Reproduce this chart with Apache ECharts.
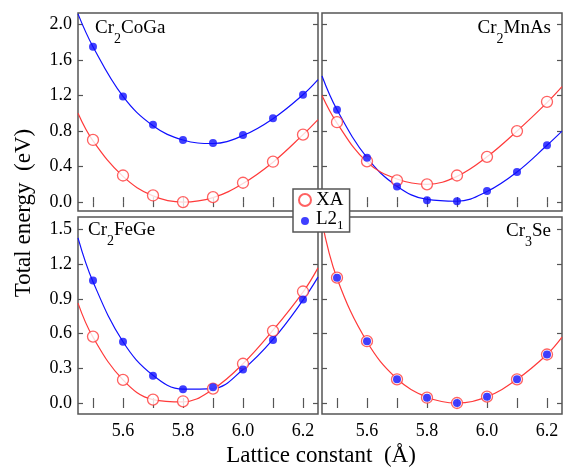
<!DOCTYPE html>
<html>
<head>
<meta charset="utf-8">
<script src="https://cdn.jsdelivr.net/npm/echarts@6/dist/echarts.min.js"></script>
<style>
  html, body { margin: 0; padding: 0; background: #fff; }
  #main { width: 564px; height: 468px; }
</style>
</head>
<body>
<div id="main"></div>
<script>
// lattice constants of the computed points, and the x positions the fitted curves are read at
const latt = [5.5, 5.6, 5.7, 5.8, 5.9, 6.0, 6.1, 6.2];
const fitLatt = [5.45, 5.5, 5.6, 5.7, 5.8, 5.9, 6.0, 6.1, 6.2, 6.25];

// Cr2CoGa
const coGaXA = [0.70, 0.30, 0.075, 0.0, 0.056, 0.218, 0.455, 0.76];
const coGaL21 = [1.75, 1.19, 0.87, 0.70, 0.665, 0.755, 0.945, 1.21];
const coGaXAFit = [1.0, 0.69, 0.29, 0.07, 0.0, 0.05, 0.21, 0.45, 0.76, 0.93];
const coGaL21Fit = [2.12, 1.75, 1.19, 0.86, 0.70, 0.66, 0.75, 0.94, 1.21, 1.38];

// Cr2MnAs
const mnAsXA = [0.90, 0.46, 0.245, 0.20, 0.30, 0.51, 0.80, 1.13];
const mnAsL21 = [1.04, 0.50, 0.175, 0.02, 0.01, 0.125, 0.34, 0.64];
const mnAsXAFit = [1.20, 0.89, 0.45, 0.26, 0.20, 0.29, 0.51, 0.80, 1.12, 1.30];
const mnAsL21Fit = [1.42, 1.04, 0.50, 0.18, 0.03, 0.01, 0.12, 0.34, 0.64, 0.80];

// Cr2FeGe
const feGeXA = [0.575, 0.20, 0.03, 0.015, 0.125, 0.34, 0.625, 0.965];
const feGeL21 = [1.06, 0.53, 0.235, 0.12, 0.137, 0.29, 0.545, 0.895];
const feGeXAFit = [0.865, 0.57, 0.20, 0.03, 0.01, 0.12, 0.34, 0.63, 0.96, 1.17];
const feGeL21Fit = [1.43, 1.05, 0.53, 0.24, 0.12, 0.125, 0.29, 0.55, 0.89, 1.09];

// Cr3Se (both phases coincide, the red fit hides the blue one)
const seXA = [1.085, 0.535, 0.205, 0.046, 0.0, 0.055, 0.205, 0.42];
const seL21 = [1.085, 0.535, 0.205, 0.046, 0.0, 0.055, 0.205, 0.42];
const seXAFit = [1.57, 1.08, 0.53, 0.21, 0.05, 0.0, 0.055, 0.205, 0.42, 0.57];

const xTicks = [5.5, 5.6, 5.7, 5.8, 5.9, 6.0, 6.1, 6.2];
const xLabels = [5.6, 5.8, 6.0, 6.2];
const yTicksTop = [0, 0.4, 0.8, 1.2, 1.6, 2.0];
const yTicksBottom = [0, 0.3, 0.6, 0.9, 1.2, 1.5];

const RED = '#ff3a3a';
const BLUE = '#0f0fff';
const FRAME = '#555';
const FONT = 'Liberation Serif';

const panels = [
  { xa: coGaXA, l21: coGaL21, xaFit: coGaXAFit, l21Fit: coGaL21Fit, yTicks: yTicksTop, ymin: -0.1, ymax: 2.13 },
  { xa: mnAsXA, l21: mnAsL21, xaFit: mnAsXAFit, l21Fit: mnAsL21Fit, yTicks: yTicksTop, ymin: -0.1, ymax: 2.13 },
  { xa: feGeXA, l21: feGeL21, xaFit: feGeXAFit, l21Fit: feGeL21Fit, yTicks: yTicksBottom, ymin: -0.095, ymax: 1.61 },
  { xa: seXA, l21: seL21, xaFit: seXAFit, l21Fit: null, yTicks: yTicksBottom, ymin: -0.095, ymax: 1.61 }
];

const grids = [
  { left: 78, top: 13, width: 240, height: 198 },
  { left: 322, top: 13, width: 240, height: 198 },
  { left: 78, top: 217, width: 240, height: 197 },
  { left: 322, top: 217, width: 240, height: 197 }
];

const pair = (xv, yv) => xv.map((x, i) => [x, yv[i]]);

let xAxes = [], yAxes = [], series = [];
panels.forEach((p, g) => {
  const bottomRow = g >= 2;
  const leftCol = g % 2 === 0;
  ['bottom', 'top'].forEach(pos => {
    xAxes.push({
      type: 'value', gridIndex: g, position: pos, min: 5.45, max: 6.25,
      axisLine: { show: false },
      splitLine: { show: false },
      axisTick: { show: true, inside: true, length: 5, customValues: xTicks, lineStyle: { color: FRAME, width: 1.2 } },
      axisLabel: {
        show: bottomRow && pos === 'bottom', customValues: xLabels, margin: 8,
        formatter: v => v.toFixed(1), color: '#000', fontFamily: FONT, fontSize: 18
      }
    });
  });
  ['left', 'right'].forEach(pos => {
    yAxes.push({
      type: 'value', gridIndex: g, position: pos, min: p.ymin, max: p.ymax,
      axisLine: { show: false },
      splitLine: { show: false },
      axisTick: { show: true, inside: true, length: 5, customValues: p.yTicks, lineStyle: { color: FRAME, width: 1.2 } },
      axisLabel: {
        show: leftCol && pos === 'left', customValues: p.yTicks, margin: 6,
        formatter: v => v.toFixed(1), color: '#000', fontFamily: FONT, fontSize: 18
      }
    });
  });
  const xi = g * 2, yi = g * 2;
  if (p.l21Fit) {
    series.push({
      name: 'L21 fit', type: 'line', xAxisIndex: xi, yAxisIndex: yi, data: pair(fitLatt, p.l21Fit),
      smooth: 0.4, symbol: 'none', lineStyle: { color: BLUE, width: 1.2 }, z: 2
    });
  }
  series.push({
    name: 'XA fit', type: 'line', xAxisIndex: xi, yAxisIndex: yi, data: pair(fitLatt, p.xaFit),
    smooth: 0.4, symbol: 'none', lineStyle: { color: RED, width: 1.2 }, z: 3
  });
  series.push({
    name: 'XA', type: 'scatter', xAxisIndex: xi, yAxisIndex: yi, data: pair(latt, p.xa),
    symbol: 'circle', symbolSize: 11,
    itemStyle: { color: '#fff', borderColor: RED, borderWidth: 1.3 }, z: 4
  });
  series.push({
    name: 'L21', type: 'scatter', xAxisIndex: xi, yAxisIndex: yi, data: pair(latt, p.l21),
    symbol: 'circle', symbolSize: 8,
    itemStyle: { color: BLUE }, z: 5
  });
});

const rich = {
  a: { fontSize: 19, fontFamily: FONT, fontWeight: 'normal', color: '#000', lineHeight: 24, verticalAlign: 'top' },
  s: { fontSize: 14, fontFamily: FONT, fontWeight: 'normal', color: '#000', lineHeight: 27, verticalAlign: 'bottom' }
};
const titleStyle = { fontWeight: 'normal', rich: rich };

const chart = echarts.init(document.getElementById('main'));
chart.setOption({
  animation: false,
  backgroundColor: '#fff',
  textStyle: { fontFamily: FONT },
  grid: grids.map(gr => Object.assign({ show: true, borderColor: FRAME, borderWidth: 1.5, backgroundColor: 'transparent' }, gr)),
  xAxis: xAxes,
  yAxis: yAxes,
  title: [
    { text: '{a|Cr}{s|2}{a|CoGa}', left: 95, top: 19, padding: 0, textStyle: titleStyle },
    { text: '{a|Cr}{s|2}{a|MnAs}', right: 13, top: 19, padding: 0, textStyle: titleStyle },
    { text: '{a|Cr}{s|2}{a|FeGe}', left: 88, top: 221, padding: 0, textStyle: titleStyle },
    { text: '{a|Cr}{s|3}{a|Se}', right: 13, top: 222, padding: 0, textStyle: titleStyle }
  ],
  legend: {
    data: [
      { name: 'XA' },
      { name: 'L21', icon: 'path://M0,0M12,12M6,2A4,4,0,1,1,5.99,2Z' }
    ],
    orient: 'vertical',
    left: 293, top: 189,
    itemWidth: 12, itemHeight: 12, itemGap: 0,
    padding: [2, 6, 0, 5],
    backgroundColor: '#fff',
    borderColor: FRAME, borderWidth: 1.5,
    formatter: name => name === 'L21' ? '{a|L2}{s|1}' : '{a|XA}',
    textStyle: {
      rich: {
        a: { fontSize: 19, fontFamily: FONT, color: '#000', lineHeight: 18, verticalAlign: 'top' },
        s: { fontSize: 13, fontFamily: FONT, color: '#000', lineHeight: 22, verticalAlign: 'bottom' }
      }
    }
  },
  graphic: [
    {
      type: 'text', x: 24, y: 213, rotation: Math.PI / 2,
      style: { text: 'Total energy  (eV)', font: '23px "Liberation Serif"', fill: '#000', textAlign: 'center', textVerticalAlign: 'middle' }
    },
    {
      type: 'text', x: 321, y: 456,
      style: { text: 'Lattice constant  (Å)', font: '23px "Liberation Serif"', fill: '#000', textAlign: 'center', textVerticalAlign: 'middle' }
    }
  ],
  series: series
});
</script>
</body>
</html>
